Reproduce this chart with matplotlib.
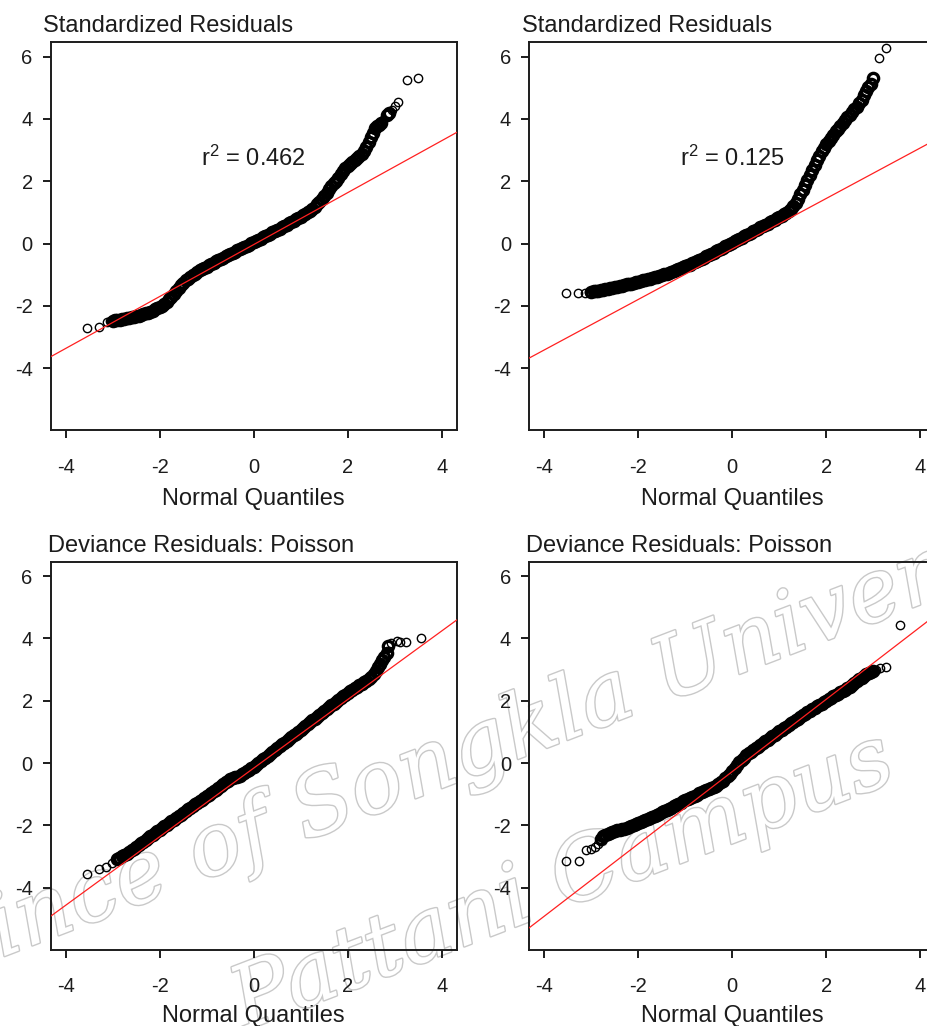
import matplotlib
matplotlib.use("Agg")
import matplotlib.pyplot as plt
import matplotlib.patheffects as pe
import numpy as np

plt.rcParams['font.family'] = ['Liberation Sans', 'DejaVu Sans']
plt.rcParams['mathtext.fontset'] = 'custom'
plt.rcParams['mathtext.rm'] = 'Liberation Sans'
plt.rcParams['axes.unicode_minus'] = False

# ---------------- data ----------------
titles = ["Standardized Residuals", "Standardized Residuals",
          "Deviance Residuals: Poisson", "Deviance Residuals: Poisson"]
xlabel = "Normal Quantiles"
xticks = [-4, -2, 0, 2, 4]
yticks = [-4, -2, 0, 2, 4, 6]
r2_labels = ["0.462", "0.125", None, None]
line_intercepts = [-0.03, -0.17, -0.16, -0.27]
line_slopes = [0.833, 0.81, 1.10, 1.16]
watermark_lines = ["Prince of Songkla University", "Pattani Campus"]

# panel 1: standardized residuals (left)
q1 = [-3.54, -3.30, -3.13, -3.06,
      -3.00, -2.95, -2.90, -2.85, -2.80, -2.75, -2.70, -2.65, -2.60, -2.55,
      -2.50, -2.45, -2.40, -2.35, -2.30, -2.25, -2.20, -2.15, -2.10, -2.05,
      -2.00, -1.95, -1.90, -1.85, -1.80, -1.75, -1.70, -1.65, -1.60, -1.55,
      -1.50, -1.45, -1.40, -1.35, -1.30, -1.25, -1.20, -1.15, -1.10, -1.05,
      -1.00, -0.95, -0.90, -0.85, -0.80, -0.75, -0.70, -0.65, -0.60, -0.55,
      -0.50, -0.45, -0.40, -0.35, -0.30, -0.25, -0.20, -0.15, -0.10, -0.05,
      0.00, 0.05, 0.10, 0.15, 0.20, 0.25, 0.30, 0.35, 0.40, 0.45,
      0.50, 0.55, 0.60, 0.65, 0.70, 0.75, 0.80, 0.85, 0.90, 0.95,
      1.00, 1.05, 1.10, 1.15, 1.20, 1.25, 1.30, 1.35, 1.40, 1.45,
      1.50, 1.55, 1.60, 1.65, 1.70, 1.75, 1.80, 1.85, 1.90, 1.95,
      2.00, 2.05, 2.10, 2.15, 2.20, 2.25, 2.30, 2.35, 2.40, 2.45, 2.50,
      2.54, 2.58, 2.62, 2.66, 2.70, 2.76, 2.83, 2.88, 2.94, 3.00, 3.08, 3.26, 3.50]
r1 = [-2.72, -2.66, -2.50, -2.48,
      -2.47, -2.46, -2.45, -2.44, -2.42, -2.41, -2.40, -2.38, -2.37, -2.35,
      -2.33, -2.31, -2.29, -2.27, -2.24, -2.21, -2.18, -2.15, -2.11, -2.07,
      -2.03, -1.99, -1.93, -1.87, -1.79, -1.70, -1.61, -1.51, -1.42, -1.33,
      -1.25, -1.18, -1.12, -1.06, -1.01, -0.96, -0.91, -0.86, -0.82, -0.78,
      -0.74, -0.69, -0.65, -0.61, -0.57, -0.53, -0.49, -0.45, -0.41, -0.37,
      -0.34, -0.30, -0.26, -0.22, -0.18, -0.14, -0.11, -0.07, -0.03, 0.01,
      0.05, 0.09, 0.12, 0.16, 0.20, 0.24, 0.28, 0.32, 0.36, 0.40,
      0.44, 0.48, 0.52, 0.56, 0.60, 0.65, 0.69, 0.74, 0.78, 0.83,
      0.87, 0.91, 0.95, 1.00, 1.05, 1.11, 1.18, 1.26, 1.35, 1.44,
      1.53, 1.63, 1.74, 1.84, 1.94, 2.02, 2.10, 2.22, 2.33, 2.42,
      2.49, 2.56, 2.62, 2.68, 2.74, 2.80, 2.88, 2.98, 3.11, 3.27, 3.43,
      3.55, 3.70, 3.76, 3.82, 3.88, 3.98, 4.13, 4.20, 4.29, 4.42, 4.56, 5.25, 5.30]

# panel 2: standardized residuals (right)
q2 = [-3.53, -3.28, -3.14, -3.06,
      -3.00, -2.95, -2.90, -2.85, -2.80, -2.75, -2.70, -2.65, -2.60, -2.55,
      -2.50, -2.45, -2.40, -2.35, -2.30, -2.25, -2.20, -2.15, -2.10, -2.05,
      -2.00, -1.95, -1.90, -1.85, -1.80, -1.75, -1.70, -1.65, -1.60, -1.55,
      -1.50, -1.45, -1.40, -1.35, -1.30, -1.25, -1.20, -1.15, -1.10, -1.05,
      -1.00, -0.95, -0.90, -0.85, -0.80, -0.75, -0.70, -0.65, -0.60, -0.55,
      -0.50, -0.45, -0.40, -0.35, -0.30, -0.25, -0.20, -0.15, -0.10, -0.05,
      0.00, 0.05, 0.10, 0.15, 0.20, 0.25, 0.30, 0.35, 0.40, 0.45,
      0.50, 0.55, 0.60, 0.65, 0.70, 0.75, 0.80, 0.85, 0.90, 0.95,
      1.00, 1.05, 1.10, 1.15, 1.20, 1.25, 1.30, 1.35, 1.40, 1.45,
      1.50, 1.55, 1.60, 1.65, 1.70, 1.75, 1.80, 1.85, 1.90, 1.95,
      2.00, 2.05, 2.10, 2.15, 2.20, 2.25, 2.30, 2.35, 2.40, 2.45,
      2.50, 2.55, 2.60, 2.65, 2.70, 2.75,
      2.80, 2.84, 2.89, 2.95, 3.00, 3.13, 3.28]
r2 = [-1.59, -1.59, -1.57, -1.55,
      -1.54, -1.53, -1.52, -1.51, -1.50, -1.48, -1.47, -1.45, -1.43, -1.42,
      -1.40, -1.38, -1.37, -1.35, -1.33, -1.31, -1.30, -1.28, -1.26, -1.24,
      -1.22, -1.20, -1.18, -1.16, -1.14, -1.12, -1.10, -1.08, -1.06, -1.04,
      -1.01, -0.99, -0.96, -0.93, -0.91, -0.88, -0.85, -0.82, -0.79, -0.76,
      -0.73, -0.70, -0.67, -0.63, -0.60, -0.56, -0.53, -0.49, -0.45, -0.41,
      -0.37, -0.33, -0.29, -0.25, -0.21, -0.17, -0.13, -0.09, -0.05, -0.01,
      0.03, 0.07, 0.11, 0.15, 0.19, 0.23, 0.27, 0.31, 0.35, 0.40,
      0.44, 0.48, 0.52, 0.56, 0.60, 0.64, 0.68, 0.73, 0.77, 0.81,
      0.85, 0.89, 0.94, 0.99, 1.04, 1.11, 1.20, 1.31, 1.44, 1.58,
      1.73, 1.89, 2.05, 2.21, 2.37, 2.52, 2.67, 2.82, 2.96, 3.08,
      3.20, 3.30, 3.40, 3.50, 3.60, 3.68, 3.76, 3.86, 3.97, 4.05,
      4.13, 4.22, 4.31, 4.40, 4.50, 4.62,
      4.76, 4.90, 5.04, 5.13, 5.30, 5.95, 6.27]

# panel 3: deviance residuals (left)
q3 = [-3.54, -3.30, -3.14, -3.02, -2.91, -2.86,
      -2.80, -2.75, -2.70, -2.65, -2.60, -2.55,
      -2.50, -2.45, -2.40, -2.35, -2.30, -2.25, -2.20, -2.15, -2.10, -2.05,
      -2.00, -1.95, -1.90, -1.85, -1.80, -1.75, -1.70, -1.65, -1.60, -1.55,
      -1.50, -1.45, -1.40, -1.35, -1.30, -1.25, -1.20, -1.15, -1.10, -1.05,
      -1.00, -0.95, -0.90, -0.85, -0.80, -0.75, -0.70, -0.65, -0.60, -0.55,
      -0.50, -0.45, -0.40, -0.35, -0.30, -0.25, -0.20, -0.15, -0.10, -0.05,
      0.00, 0.05, 0.10, 0.15, 0.20, 0.25, 0.30, 0.35, 0.40, 0.45,
      0.50, 0.55, 0.60, 0.65, 0.70, 0.75, 0.80, 0.85, 0.90, 0.95,
      1.00, 1.05, 1.10, 1.15, 1.20, 1.25, 1.30, 1.35, 1.40, 1.45,
      1.50, 1.55, 1.60, 1.65, 1.70, 1.75, 1.80, 1.85, 1.90, 1.95,
      2.00, 2.05, 2.10, 2.15, 2.20, 2.25, 2.30, 2.35, 2.40, 2.45, 2.50,
      2.55, 2.60, 2.64, 2.68, 2.72, 2.77, 2.83, 2.86, 2.92, 3.04, 3.12, 3.25, 3.55]
r3 = [-3.56, -3.41, -3.33, -3.22, -3.08, -3.03,
      -2.98, -2.94, -2.90, -2.85, -2.79, -2.74,
      -2.68, -2.63, -2.57, -2.52, -2.46, -2.41, -2.35, -2.30, -2.24, -2.19,
      -2.13, -2.08, -2.03, -1.98, -1.93, -1.87, -1.82, -1.76, -1.70, -1.65,
      -1.59, -1.54, -1.48, -1.43, -1.37, -1.32, -1.27, -1.22, -1.17, -1.12,
      -1.07, -1.02, -0.96, -0.91, -0.85, -0.79, -0.73, -0.67, -0.62, -0.57,
      -0.52, -0.48, -0.45, -0.43, -0.40, -0.36, -0.31, -0.26, -0.21, -0.16,
      -0.11, -0.05, 0.01, 0.07, 0.12, 0.18, 0.24, 0.30, 0.36, 0.42,
      0.48, 0.54, 0.60, 0.66, 0.72, 0.78, 0.84, 0.89, 0.95, 1.01,
      1.07, 1.13, 1.19, 1.25, 1.31, 1.37, 1.43, 1.49, 1.55, 1.61,
      1.67, 1.73, 1.79, 1.85, 1.91, 1.97, 2.04, 2.09, 2.15, 2.20,
      2.25, 2.30, 2.35, 2.40, 2.45, 2.50, 2.55, 2.60, 2.65, 2.70, 2.75,
      2.85, 2.96, 3.08, 3.18, 3.30, 3.42, 3.55, 3.75, 3.85, 3.93, 3.88, 3.89, 4.00]

# panel 4: deviance residuals (right)
q4 = [-3.53, -3.26, -3.11, -3.00, -2.93, -2.86, -2.80,
      -2.75, -2.70, -2.65, -2.60, -2.55,
      -2.50, -2.45, -2.40, -2.35, -2.30, -2.25, -2.20, -2.15, -2.10, -2.05,
      -2.00, -1.95, -1.90, -1.85, -1.80, -1.75, -1.70, -1.65, -1.60, -1.55,
      -1.50, -1.45, -1.40, -1.35, -1.30, -1.25, -1.20, -1.15, -1.10, -1.05,
      -1.00, -0.95, -0.90, -0.85, -0.80, -0.75, -0.70, -0.65, -0.60, -0.55,
      -0.50, -0.45, -0.40, -0.35, -0.30, -0.25, -0.20, -0.15, -0.10, -0.05,
      0.00, 0.05, 0.10, 0.15, 0.20, 0.25, 0.30, 0.35, 0.40, 0.45,
      0.50, 0.55, 0.60, 0.65, 0.70, 0.75, 0.80, 0.85, 0.90, 0.95,
      1.00, 1.05, 1.10, 1.15, 1.20, 1.25, 1.30, 1.35, 1.40, 1.45,
      1.50, 1.55, 1.60, 1.65, 1.70, 1.75, 1.80, 1.85, 1.90, 1.95,
      2.00, 2.05, 2.10, 2.15, 2.20, 2.25, 2.30, 2.35, 2.40, 2.45,
      2.50, 2.55, 2.60, 2.65, 2.70, 2.75, 2.80, 2.85, 2.90, 2.95,
      3.00, 3.06, 3.15, 3.28, 3.56]
r4 = [-3.13, -3.13, -2.79, -2.76, -2.70, -2.60, -2.45,
      -2.35, -2.31, -2.27, -2.24, -2.21,
      -2.19, -2.16, -2.14, -2.12, -2.10, -2.07, -2.05, -2.02, -1.99, -1.96,
      -1.92, -1.89, -1.85, -1.82, -1.79, -1.76, -1.72, -1.69, -1.65, -1.62,
      -1.58, -1.55, -1.51, -1.47, -1.43, -1.39, -1.35, -1.31, -1.27, -1.23,
      -1.19, -1.15, -1.12, -1.08, -1.04, -1.01, -0.97, -0.94, -0.90, -0.87,
      -0.84, -0.80, -0.76, -0.72, -0.67, -0.62, -0.56, -0.49, -0.42, -0.34,
      -0.25, -0.16, -0.06, 0.03, 0.11, 0.18, 0.25, 0.31, 0.37, 0.42,
      0.48, 0.53, 0.59, 0.64, 0.70, 0.75, 0.80, 0.86, 0.91, 0.96,
      1.02, 1.07, 1.12, 1.17, 1.23, 1.28, 1.33, 1.38, 1.43, 1.48,
      1.53, 1.58, 1.63, 1.68, 1.73, 1.77, 1.82, 1.86, 1.91, 1.95,
      2.00, 2.05, 2.09, 2.14, 2.18, 2.22, 2.27, 2.32, 2.36, 2.41,
      2.45, 2.51, 2.57, 2.63, 2.69, 2.74, 2.80, 2.85, 2.90, 2.94,
      2.97, 3.00, 3.04, 3.09, 4.43]

quantiles = [q1, q2, q3, q4]
residuals = [r1, r2, r3, r4]

# ---------------- figure ----------------
W, H = 927, 1026
fig = plt.figure(figsize=(W / 100, H / 100), dpi=100)
fig.patch.set_facecolor("white")

ax_w, ax_h = 406 / W, 388 / H
lefts = [50.7 / W, 529.3 / W, 50.7 / W, 529.3 / W]
bottoms = [1 - 430 / H, 1 - 430 / H, 1 - 949.5 / H, 1 - 949.5 / H]
title_dx = [-7.7, -7.6, -3.0, -3.3]
label_pads = [8, 8, 6, 6]

ink = "#1c1c1c"
for i in range(4):
    ax = fig.add_axes([lefts[i], bottoms[i], ax_w, ax_h])
    ax.set_facecolor("none")
    ax.set_xlim(-4.32, 4.32)
    ax.set_ylim(-5.98, 6.47)
    ax.set_xticks(xticks)
    ax.set_yticks(yticks)
    for sp in ax.spines.values():
        sp.set_linewidth(1.4)
        sp.set_color(ink)
    ax.tick_params(direction="out", length=6, width=1.4, color=ink,
                   labelsize=14.5, labelcolor=ink)
    ax.tick_params(axis="x", pad=14)
    ax.tick_params(axis="y", pad=7)
    ax.axline((0, line_intercepts[i]), slope=line_slopes[i],
              color="#ff2020", lw=0.9, zorder=3)

    x = np.asarray(quantiles[i])
    y = np.asarray(residuals[i])
    gaps = np.diff(x)
    left_gap = np.r_[np.inf, gaps]
    right_gap = np.r_[gaps, np.inf]
    dense = (left_gap <= 0.051) | (right_gap <= 0.051)
    # sparse tail points: thin open circles
    ax.plot(x[~dense], y[~dense], linestyle="none", marker="o",
            markersize=6.0, markerfacecolor="none", markeredgecolor="black",
            markeredgewidth=1.0, zorder=2)
    # bulk of the sample: heavily overlapping circles form a solid band
    ax.plot(x[dense], y[dense], linestyle="none", marker="o",
            markersize=7.4, markerfacecolor="none", markeredgecolor="black",
            markeredgewidth=2.4, zorder=2)

    ax.set_xlabel(xlabel, fontsize=17, color=ink, labelpad=label_pads[i])
    ax.text(title_dx[i] / 406, 1 + 10 / 388, titles[i], transform=ax.transAxes,
            ha="left", va="baseline", fontsize=17, color=ink)
    if r2_labels[i] is not None:
        ax.text(0.0, 2.5, r"$\mathregular{r^2}$ = " + r2_labels[i],
                ha="center", va="baseline", fontsize=17, color=ink, zorder=4)

# faint outlined watermark, drawn beneath the plots
wm_effects = [pe.Stroke(linewidth=2.0, foreground="#c9c9c9"), pe.Normal()]
wm_pos = [(0.530, 0.275), (0.607, 0.140)]
for txt, (wx, wy) in zip(watermark_lines, wm_pos):
    fig.text(wx, wy, txt, rotation=21, ha="center", va="center",
             rotation_mode="anchor", fontsize=63, family="DejaVu Serif",
             style="italic", color="white", path_effects=wm_effects,
             zorder=-5)

fig.savefig("out.png", dpi=100)
